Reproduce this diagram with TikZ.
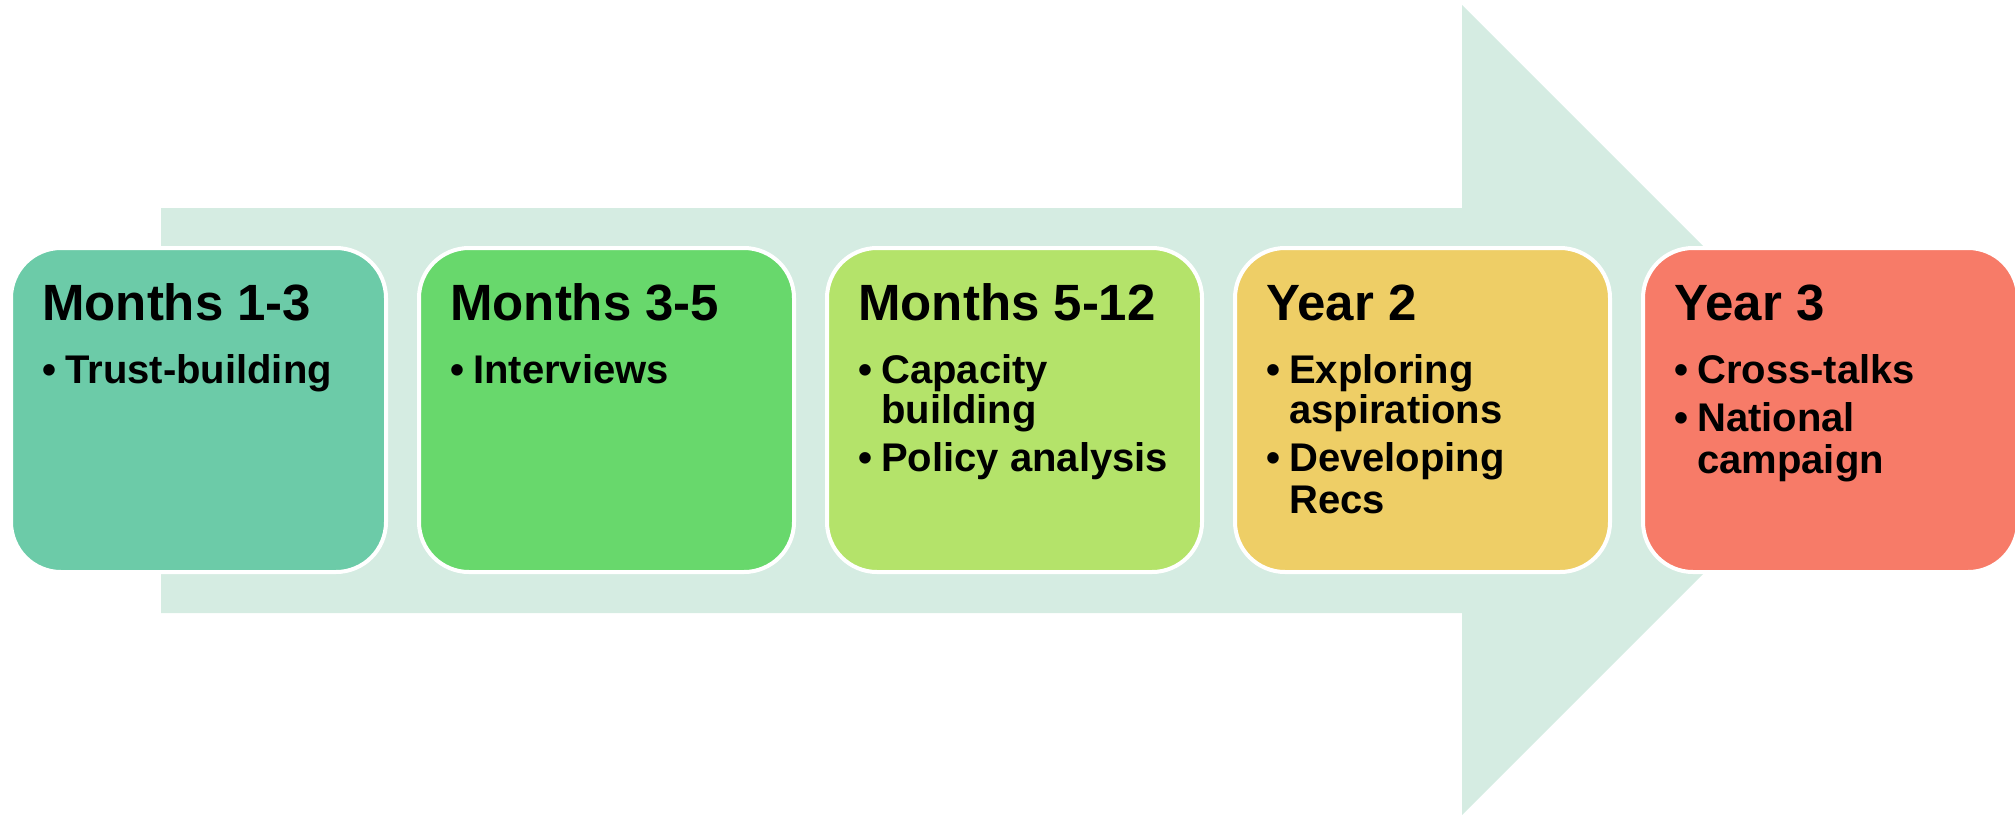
\documentclass[tikz,border=0pt]{standalone}
\usepackage{fontspec}
\setmainfont{Liberation Sans}
\definecolor{arrowc}{RGB}{213,236,226}
\definecolor{c1}{RGB}{108,203,168}
\definecolor{c2}{RGB}{104,216,108}
\definecolor{c3}{RGB}{180,227,106}
\definecolor{c4}{RGB}{238,206,102}
\definecolor{c5}{RGB}{247,123,104}
\tikzset{
  box/.style={draw=white, line width=4pt, rounded corners=50pt, minimum width=375pt, minimum height=324pt, inner sep=0pt},
  ttl/.style={anchor=base west, inner sep=0pt, font=\bfseries\fontsize{51}{51}\selectfont},
  itm/.style={anchor=base west, inner sep=0pt, font=\bfseries\fontsize{40}{40}\selectfont}
}
\begin{document}
\begin{tikzpicture}[x=1pt,y=-1pt]
\useasboundingbox (0,0) rectangle (2015,815);
% big arrow
\fill[arrowc] (161,208) -- (1462,208) -- (1462,5) -- (1867,410) -- (1462,815) -- (1462,613) -- (161,613) -- cycle;
% boxes
\node[box, fill=c1] (b1) at (198.5,410) {};
\node[box, fill=c2] (b2) at (606.5,410) {};
\node[box, fill=c3] (b3) at (1014.5,410) {};
\node[box, fill=c4] (b4) at (1422.5,410) {};
\node[box, fill=c5] (b5) at (1830.5,410) {};
% box 1
\node[ttl] (t1) at ([shift={(33,74)}]b1.north west) {Months 1-3};
\node[itm] (p1a) at ([shift={(33,137)}]b1.north west) {•};
\node[itm] (i1a) at ([shift={(56,137)}]b1.north west) {Trust-building};
% box 2
\node[ttl] (t2) at ([shift={(33,74)}]b2.north west) {Months 3-5};
\node[itm] (p2a) at ([shift={(33,137)}]b2.north west) {•};
\node[itm] (i2a) at ([shift={(56,137)}]b2.north west) {Interviews};
% box 3
\node[ttl] (t3) at ([shift={(33,74)}]b3.north west) {Months 5-12};
\node[itm] (p3a) at ([shift={(33,137)}]b3.north west) {•};
\node[itm] (i3a) at ([shift={(56,137)}]b3.north west) {Capacity};
\node[itm] (i3b) at ([shift={(56,177)}]b3.north west) {building};
\node[itm] (p3c) at ([shift={(33,225)}]b3.north west) {•};
\node[itm] (i3c) at ([shift={(56,225)}]b3.north west) {Policy analysis};
% box 4
\node[ttl] (t4) at ([shift={(33,74)}]b4.north west) {Year 2};
\node[itm] (p4a) at ([shift={(33,137)}]b4.north west) {•};
\node[itm] (i4a) at ([shift={(56,137)}]b4.north west) {Exploring};
\node[itm] (i4b) at ([shift={(56,177)}]b4.north west) {aspirations};
\node[itm] (p4c) at ([shift={(33,225)}]b4.north west) {•};
\node[itm] (i4c) at ([shift={(56,225)}]b4.north west) {Developing};
\node[itm] (i4d) at ([shift={(56,267)}]b4.north west) {Recs};
% box 5
\node[ttl] (t5) at ([shift={(33,74)}]b5.north west) {Year 3};
\node[itm] (p5a) at ([shift={(33,137)}]b5.north west) {•};
\node[itm] (i5a) at ([shift={(56,137)}]b5.north west) {Cross-talks};
\node[itm] (p5b) at ([shift={(33,185)}]b5.north west) {•};
\node[itm] (i5b) at ([shift={(56,185)}]b5.north west) {National};
\node[itm] (i5c) at ([shift={(56,227)}]b5.north west) {campaign};
\end{tikzpicture}
\end{document}
